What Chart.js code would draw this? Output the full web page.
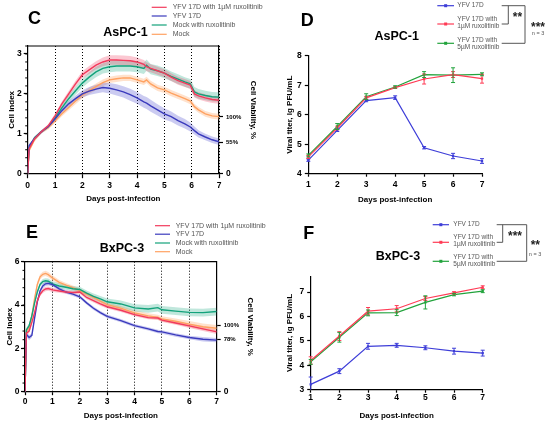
<!DOCTYPE html>
<html>
<head>
<meta charset="utf-8">
<script src="https://cdn.jsdelivr.net/npm/chart.js@4.4.1/dist/chart.umd.min.js"></script>
<style>
  html, body { margin: 0; padding: 0; background: #fff; }
  #wrap { position: relative; width: 550px; height: 426px; overflow: hidden; }
  #wrap canvas { position: absolute; }
</style>
</head>
<body>
<div id="wrap">
  <canvas id="chartC" width="275" height="213" style="left:0;top:0"></canvas>
  <canvas id="chartD" width="275" height="213" style="left:275px;top:0"></canvas>
  <canvas id="chartE" width="275" height="213" style="left:0;top:213px"></canvas>
  <canvas id="chartF" width="275" height="213" style="left:275px;top:213px"></canvas>
</div>
<script>
// ---- cell index (xCELLigence) curves ----
const cellSeriesLabels = ['YFV 17D with 1µM ruxolitinib', 'YFV 17D', 'Mock with ruxolitinib', 'Mock'];
const dayTicks = [0, 1, 2, 3, 4, 5, 6, 7];

// AsPC-1
const aspcDays = [0, 0.05, 0.25, 0.5, 0.75, 1, 1.25, 1.5, 1.75, 2, 2.25, 2.5, 2.75, 3, 3.25, 3.5, 3.75, 4, 4.25, 4.35, 4.5, 4.75, 5, 5.25, 5.5, 5.75, 5.95, 6.1, 6.25, 6.5, 6.75, 7];
const aspcRux = [0, 0.62, 0.88, 1.05, 1.2, 1.45, 1.75, 2.0, 2.25, 2.48, 2.6, 2.72, 2.8, 2.85, 2.85, 2.84, 2.83, 2.8, 2.74, 2.68, 2.64, 2.58, 2.52, 2.42, 2.33, 2.27, 2.22, 2.0, 1.95, 1.9, 1.86, 1.84];
const aspcRuxSd = [0, 0.04, 0.04, 0.04, 0.04, 0.05, 0.06, 0.07, 0.08, 0.09, 0.1, 0.1, 0.11, 0.12, 0.12, 0.12, 0.12, 0.11, 0.11, 0.11, 0.1, 0.1, 0.1, 0.1, 0.1, 0.1, 0.1, 0.09, 0.09, 0.09, 0.09, 0.09];
const aspcYfv = [0, 0.7, 0.88, 1.05, 1.18, 1.37, 1.58, 1.75, 1.88, 2.0, 2.07, 2.12, 2.16, 2.14, 2.1, 2.05, 1.98, 1.9, 1.8, 1.77, 1.7, 1.6, 1.5, 1.43, 1.33, 1.25, 1.17, 1.08, 1.0, 0.92, 0.85, 0.8];
const aspcYfvSd = [0, 0.04, 0.04, 0.04, 0.04, 0.05, 0.06, 0.07, 0.08, 0.09, 0.1, 0.11, 0.12, 0.13, 0.14, 0.14, 0.15, 0.15, 0.15, 0.15, 0.15, 0.14, 0.14, 0.13, 0.12, 0.12, 0.11, 0.1, 0.09, 0.08, 0.08, 0.08];
const aspcMockRux = [0, 0.65, 0.9, 1.05, 1.18, 1.4, 1.65, 1.88, 2.08, 2.27, 2.42, 2.55, 2.64, 2.68, 2.7, 2.7, 2.7, 2.68, 2.64, 2.72, 2.62, 2.58, 2.52, 2.44, 2.37, 2.3, 2.25, 2.05, 2.0, 1.96, 1.93, 1.92];
const aspcMockRuxSd = [0, 0.04, 0.04, 0.04, 0.04, 0.05, 0.07, 0.09, 0.1, 0.11, 0.12, 0.13, 0.13, 0.14, 0.14, 0.14, 0.14, 0.14, 0.14, 0.14, 0.13, 0.13, 0.13, 0.12, 0.12, 0.12, 0.12, 0.12, 0.12, 0.12, 0.12, 0.12];
const aspcMock = [0, 0.58, 0.85, 1.05, 1.15, 1.32, 1.5, 1.66, 1.82, 1.97, 2.08, 2.18, 2.28, 2.35, 2.38, 2.4, 2.4, 2.35, 2.3, 2.35, 2.25, 2.15, 2.1, 2.02, 1.95, 1.88, 1.82, 1.68, 1.6, 1.5, 1.45, 1.43];
const aspcMockSd = [0, 0.05, 0.05, 0.04, 0.04, 0.05, 0.06, 0.07, 0.08, 0.08, 0.08, 0.08, 0.08, 0.08, 0.08, 0.08, 0.08, 0.08, 0.08, 0.08, 0.08, 0.08, 0.08, 0.08, 0.08, 0.08, 0.08, 0.07, 0.07, 0.07, 0.07, 0.07];
const aspcIndexTicks = [0, 1, 2, 3];
const aspcViabilityTicks = [0, 55, 100];

// BxPC-3
const bxpcDays = [0, 0.05, 0.15, 0.25, 0.35, 0.45, 0.55, 0.65, 0.75, 0.85, 1, 1.25, 1.5, 1.75, 2, 2.25, 2.5, 2.75, 3, 3.5, 4, 4.5, 4.85, 5, 5.5, 6, 6.5, 7];
const bxpcRux = [0, 2.7, 2.8, 3.2, 3.65, 4.2, 4.5, 4.66, 4.74, 4.76, 4.7, 4.65, 4.6, 4.58, 4.6, 4.35, 4.2, 4.05, 3.92, 3.76, 3.56, 3.42, 3.4, 3.3, 3.17, 3.04, 2.9, 2.76];
const bxpcRuxSd = [0, 0.1, 0.1, 0.1, 0.1, 0.1, 0.1, 0.1, 0.1, 0.1, 0.1, 0.08, 0.08, 0.08, 0.08, 0.08, 0.08, 0.08, 0.08, 0.08, 0.08, 0.08, 0.08, 0.08, 0.08, 0.1, 0.1, 0.1];
const bxpcYfv = [0, 2.65, 2.5, 2.6, 3.4, 4.15, 4.65, 4.88, 4.98, 5.0, 4.95, 4.75, 4.6, 4.5, 4.38, 4.1, 3.85, 3.65, 3.48, 3.28, 3.05, 2.9, 2.78, 2.76, 2.62, 2.5, 2.42, 2.38];
const bxpcYfvSd = [0, 0.12, 0.12, 0.1, 0.1, 0.1, 0.1, 0.1, 0.1, 0.1, 0.1, 0.08, 0.08, 0.08, 0.08, 0.08, 0.08, 0.08, 0.08, 0.08, 0.08, 0.08, 0.08, 0.08, 0.08, 0.08, 0.1, 0.1];
const bxpcMockRux = [0, 2.85, 3.05, 3.5, 4.1, 4.6, 4.95, 5.08, 5.12, 5.1, 4.98, 4.88, 4.82, 4.75, 4.72, 4.55, 4.4, 4.28, 4.15, 4.05, 3.87, 3.82, 3.88, 3.78, 3.72, 3.66, 3.65, 3.7];
const bxpcMockRuxSd = [0, 0.1, 0.1, 0.1, 0.1, 0.1, 0.1, 0.12, 0.12, 0.12, 0.12, 0.12, 0.12, 0.12, 0.12, 0.12, 0.13, 0.14, 0.15, 0.16, 0.17, 0.18, 0.18, 0.18, 0.18, 0.18, 0.18, 0.18];
const bxpcMock = [0, 2.8, 2.95, 3.5, 4.3, 4.95, 5.3, 5.42, 5.46, 5.4, 5.25, 5.05, 4.92, 4.8, 4.66, 4.5, 4.35, 4.18, 4.02, 3.85, 3.64, 3.5, 3.43, 3.36, 3.25, 3.12, 3.0, 2.93];
const bxpcMockSd = [0, 0.1, 0.1, 0.12, 0.12, 0.12, 0.12, 0.12, 0.12, 0.12, 0.12, 0.1, 0.1, 0.1, 0.1, 0.1, 0.1, 0.1, 0.1, 0.1, 0.12, 0.12, 0.12, 0.12, 0.13, 0.14, 0.15, 0.15];
const bxpcIndexTicks = [0, 2, 4, 6];
const bxpcViabilityTicks = [0, 78, 100];

// ---- viral titers ----
const titerSeriesLabels = ['YFV 17D', 'YFV 17D with\n1µM ruxolitinib', 'YFV 17D with\n5µM ruxolitinib'];
const titerDays = [1, 2, 3, 4, 5, 6, 7];
const aspcTiterYfv = [4.46, 5.47, 6.48, 6.58, 4.88, 4.6, 4.43];
const aspcTiterYfvSd = [0.04, 0.04, 0.04, 0.06, 0.04, 0.09, 0.08];
const aspcTiterRux1 = [4.57, 5.55, 6.57, 6.92, 7.21, 7.36, 7.22];
const aspcTiterRux1Sd = [0.05, 0.06, 0.05, 0.03, 0.17, 0.1, 0.15];
const aspcTiterRux5 = [4.62, 5.6, 6.61, 6.94, 7.36, 7.34, 7.37];
const aspcTiterRux5Sd = [0.05, 0.1, 0.1, 0.04, 0.1, 0.25, 0.05];
const aspcTiterTicks = [4, 5, 6, 7, 8];

const bxpcTiterYfv = [3.22, 3.76, 4.78, 4.82, 4.72, 4.58, 4.5];
const bxpcTiterYfvSd = [0.3, 0.1, 0.12, 0.08, 0.08, 0.12, 0.12];
const bxpcTiterRux1 = [4.2, 5.2, 6.22, 6.32, 6.74, 6.97, 7.2];
const bxpcTiterRux1Sd = [0.15, 0.18, 0.15, 0.13, 0.08, 0.05, 0.06];
const bxpcTiterRux5 = [4.14, 5.15, 6.15, 6.16, 6.58, 6.9, 7.04];
const bxpcTiterRux5Sd = [0.1, 0.2, 0.12, 0.12, 0.27, 0.05, 0.06];
const bxpcTiterTicks = [3, 4, 5, 6, 7];

// ---- look ----
const FAMILY = '"Liberation Sans", Arial, Helvetica, sans-serif';
Chart.defaults.font.family = FAMILY;
Chart.defaults.color = '#000';
Chart.defaults.animation = false;

const cellColors = ['#f23a5c', '#3b3bbd', '#13a27b', '#ffa262'];
const cellBands = ['rgba(242,58,92,0.28)', 'rgba(70,70,205,0.28)', 'rgba(30,170,130,0.28)', 'rgba(255,165,100,0.32)'];
const titerColors = ['#3e3ed8', '#ff3b55', '#22a33c'];

const FONT_TICK = { size: 8.5, weight: 'bold' };
const FONT_AXIS = { size: 8, weight: 'bold' };

const fixWidth = w => s => { s.width = w; };
const fixHeight = h => s => { s.height = h; };
const useTicks = list => s => { s.ticks = list.map(v => ({ value: v })); };
const xy = (days, vals) => days.map((d, i) => ({ x: d, y: vals[i] }));

// letters, titles, legends, frame, minor ticks, significance brackets
const decorPlugin = {
  id: 'decor',
  afterDraw(chart, args, o) {
    const ctx = chart.ctx, a = chart.chartArea;
    ctx.save();
    ctx.fillStyle = '#000';
    ctx.strokeStyle = '#000';
    ctx.textBaseline = 'middle';

    ctx.textAlign = 'left';
    ctx.font = 'bold 18px ' + FAMILY;
    ctx.fillText(o.letter[0], o.letter[1], o.letter[2]);
    ctx.textAlign = 'center';
    ctx.font = 'bold 12.5px ' + FAMILY;
    ctx.fillText(o.title[0], o.title[1], o.title[2]);

    if (o.frameTop) {
      ctx.lineWidth = 1.2;
      ctx.beginPath();
      ctx.moveTo(a.left, a.top);
      ctx.lineTo(a.right, a.top);
      ctx.stroke();
    }

    if (o.minorStep) {
      const s = chart.scales.y;
      ctx.lineWidth = 1;
      for (let v = s.min; v <= s.max + 1e-9; v += o.minorStep) {
        const y = s.getPixelForValue(v);
        ctx.beginPath();
        ctx.moveTo(a.left - 2.5, y);
        ctx.lineTo(a.left, y);
        ctx.stroke();
      }
    }

    const L = o.legend;
    ctx.textAlign = 'left';
    ctx.font = L.size + 'px ' + FAMILY;
    L.rows.forEach(r => {
      const ds = chart.data.datasets[r.ds];
      ctx.strokeStyle = ds.borderColor;
      ctx.lineWidth = 1.2;
      ctx.beginPath();
      ctx.moveTo(L.x0, r.markY);
      ctx.lineTo(L.x1, r.markY);
      ctx.stroke();
      if (L.marker) {
        ctx.fillStyle = ds.borderColor;
        const cx = (L.x0 + L.x1) / 2;
        ctx.fillRect(cx - 1.5, r.markY - 1.5, 3, 3);
      }
      ctx.fillStyle = '#555';
      String(ds.label).split('\n').forEach((t, k) => ctx.fillText(t, L.tx, r.textY + k * L.gap));
    });

    (o.brackets || []).forEach(path => {
      ctx.strokeStyle = '#555';
      ctx.lineWidth = 1;
      ctx.beginPath();
      path.forEach((p, k) => (k ? ctx.lineTo(p[0], p[1]) : ctx.moveTo(p[0], p[1])));
      ctx.stroke();
    });
    (o.marks || []).forEach(m => {
      ctx.fillStyle = m.color || '#222';
      ctx.textAlign = 'center';
      ctx.font = (m.bold ? 'bold ' : '') + m.size + 'px ' + FAMILY;
      ctx.fillText(m.text, m.x, m.y + (m.star ? m.size * 0.22 : 0));
    });
    ctx.restore();
  }
};

// mean ± SD whiskers for the titer plots
const errorBarPlugin = {
  id: 'errorBars',
  afterDatasetsDraw(chart) {
    const ctx = chart.ctx, a = chart.chartArea, ys = chart.scales.y;
    ctx.save();
    ctx.beginPath();
    ctx.rect(a.left - 5, a.top - 5, a.right - a.left + 10, a.bottom - a.top + 5);
    ctx.clip();
    chart.data.datasets.forEach((ds, di) => {
      if (!ds.sd) return;
      const meta = chart.getDatasetMeta(di);
      ctx.strokeStyle = ds.borderColor;
      ctx.lineWidth = 1;
      meta.data.forEach((pt, i) => {
        const v = ds.data[i].y, e = ds.sd[i];
        const y1 = ys.getPixelForValue(v + e), y2 = ys.getPixelForValue(v - e);
        ctx.beginPath();
        ctx.moveTo(pt.x, y1); ctx.lineTo(pt.x, y2);
        ctx.moveTo(pt.x - 2, y1); ctx.lineTo(pt.x + 2, y1);
        ctx.moveTo(pt.x - 2, y2); ctx.lineTo(pt.x + 2, y2);
        ctx.stroke();
      });
    });
    ctx.restore();
  }
};

function cellChart(id, c) {
  const lines = c.series.map((s, i) => ({
    label: cellSeriesLabels[i],
    data: xy(c.days, s[0]),
    borderColor: cellColors[i],
    borderWidth: 1.4,
    pointRadius: 0,
    tension: 0,
    fill: false,
    order: 0
  }));
  const bands = [];
  c.series.forEach((s, i) => {
    bands.push({ data: xy(c.days, s[0].map((v, k) => v + s[1][k])), borderColor: 'rgba(0,0,0,0)', borderWidth: 0, pointRadius: 0, fill: false, order: 2 });
    bands.push({ data: xy(c.days, s[0].map((v, k) => v - s[1][k])), borderColor: 'rgba(0,0,0,0)', borderWidth: 0, pointRadius: 0, fill: '-1', backgroundColor: cellBands[i], order: 2 });
  });
  return new Chart(document.getElementById(id), {
    type: 'line',
    data: { datasets: lines.concat(bands) },
    plugins: [decorPlugin],
    options: {
      responsive: false,
      layout: { padding: { top: c.top, left: 0, right: 0, bottom: 0 } },
      plugins: { legend: { display: false }, tooltip: { enabled: false }, decor: c.decor },
      scales: {
        x: {
          type: 'linear', min: 0, max: 7,
          afterBuildTicks: useTicks(dayTicks),
          afterFit: fixHeight(c.bottomH),
          grid: {
            color: ctx => (ctx.tick && ctx.tick.value === 0 ? 'rgba(0,0,0,0)' : '#000'),
            lineWidth: 1, tickColor: '#000', tickWidth: 1.2, tickLength: c.xTickLen, tickBorderDash: []
          },
          border: { display: true, color: '#000', width: 1.2, dash: [1, 2] },
          ticks: { font: FONT_TICK, padding: c.xTickPad, maxRotation: 0 },
          title: { display: true, text: 'Days post-infection', font: FONT_AXIS, padding: { bottom: c.xTitlePad } }
        },
        y: {
          type: 'linear', position: 'left', min: 0, max: c.yMax,
          afterBuildTicks: useTicks(c.yTicks),
          afterFit: fixWidth(c.leftW),
          grid: { drawOnChartArea: false, tickColor: '#000', tickWidth: 1.2, tickLength: 4 },
          border: { display: true, color: '#000', width: 1.2 },
          ticks: { font: FONT_TICK, padding: c.yTickPad },
          title: { display: true, text: 'Cell Index', font: FONT_AXIS, padding: { top: c.yTitlePad } }
        },
        y2: {
          type: 'linear', position: 'right', min: 0, max: c.viabilityMax,
          afterBuildTicks: useTicks(c.viabilityTicks),
          afterFit: fixWidth(c.rightW),
          grid: { drawOnChartArea: false, tickColor: '#000', tickWidth: 1.2, tickLength: 4 },
          border: { display: true, color: '#000', width: 1.2 },
          ticks: {
            padding: 3,
            callback: v => (v === 0 ? '0' : v + '%'),
            font: ctx => (ctx.tick && ctx.tick.value === 0 ? { size: 8.5, weight: 'bold' } : { size: 6, weight: 'bold' })
          },
          title: { display: true, text: 'Cell Viability, %', font: FONT_AXIS, padding: { top: c.rightTitlePad } }
        }
      }
    }
  });
}

function titerChart(id, c) {
  const datasets = c.series.map((s, i) => ({
    label: titerSeriesLabels[i],
    data: xy(titerDays, s[0]),
    sd: s[1],
    borderColor: titerColors[i],
    backgroundColor: titerColors[i],
    borderWidth: 1.2,
    pointStyle: 'rect',
    pointRadius: 1.6,
    pointBorderWidth: 0,
    tension: 0,
    fill: false,
    clip: 6
  }));
  return new Chart(document.getElementById(id), {
    type: 'line',
    data: { datasets },
    plugins: [decorPlugin, errorBarPlugin],
    options: {
      responsive: false,
      layout: { padding: { top: c.top, left: 0, right: c.padRight, bottom: 0 } },
      plugins: { legend: { display: false }, tooltip: { enabled: false }, decor: c.decor },
      scales: {
        x: {
          type: 'linear', min: 1, max: 7,
          afterBuildTicks: useTicks(titerDays),
          afterFit: fixHeight(c.bottomH),
          grid: { drawOnChartArea: false, tickColor: '#000', tickWidth: 1.2, tickLength: 3 },
          border: { display: true, color: '#000', width: 1.2 },
          ticks: { font: FONT_TICK, padding: c.xTickPad, maxRotation: 0 },
          title: { display: true, text: 'Days post-infection', font: FONT_AXIS, padding: { bottom: c.xTitlePad } }
        },
        y: {
          type: 'linear', min: c.yMin, max: c.yMax,
          afterBuildTicks: useTicks(c.yTicks),
          afterFit: fixWidth(c.leftW),
          grid: { drawOnChartArea: false, tickColor: '#000', tickWidth: 1.2, tickLength: 3.5 },
          border: { display: true, color: '#000', width: 1.2 },
          ticks: { font: FONT_TICK, padding: 3 },
          title: { display: true, text: 'Viral titer, lg PFU/mL', font: FONT_AXIS, padding: { top: c.yTitlePad } }
        }
      }
    }
  });
}

cellChart('chartC', {
  days: aspcDays,
  series: [[aspcRux, aspcRuxSd], [aspcYfv, aspcYfvSd], [aspcMockRux, aspcMockRuxSd], [aspcMock, aspcMockSd]],
  yMax: 3.2, yTicks: aspcIndexTicks, viabilityMax: 225, viabilityTicks: aspcViabilityTicks,
  top: 46, leftW: 27.7, rightW: 56, bottomH: 39.3,
  xTickLen: 4.5, xTickPad: 2.5, yTickPad: 2, xTitlePad: 9.9, yTitlePad: 6.9, rightTitlePad: 16.9,
  decor: {
    letter: ['C', 28, 19], title: ['AsPC-1', 125.5, 32.3], frameTop: true, minorStep: 0.2,
    legend: { x0: 151.7, x1: 166.7, tx: 172.7, size: 7, gap: 0,
      rows: [{ ds: 0, markY: 7.3, textY: 7.3 }, { ds: 1, markY: 16, textY: 16 }, { ds: 2, markY: 25, textY: 25 }, { ds: 3, markY: 34.3, textY: 34.3 }] }
  }
});

cellChart('chartE', {
  days: bxpcDays,
  series: [[bxpcRux, bxpcRuxSd], [bxpcYfv, bxpcYfvSd], [bxpcMockRux, bxpcMockRuxSd], [bxpcMock, bxpcMockSd]],
  yMax: 6, yTicks: bxpcIndexTicks, viabilityMax: 195, viabilityTicks: bxpcViabilityTicks,
  top: 48.7, leftW: 25, rightW: 58.3, bottomH: 34.3,
  xTickLen: 3.5, xTickPad: 1, yTickPad: 1.5, xTitlePad: 5.5, yTitlePad: 5.2, rightTitlePad: 19.5,
  decor: {
    letter: ['E', 26, 20], title: ['BxPC-3', 122, 35.7], frameTop: true, minorStep: 0.4,
    legend: { x0: 155, x1: 170, tx: 175.7, size: 7, gap: 0,
      rows: [{ ds: 0, markY: 12.7, textY: 12.7 }, { ds: 1, markY: 21.2, textY: 21.2 }, { ds: 2, markY: 30, textY: 30 }, { ds: 3, markY: 38.7, textY: 38.7 }] }
  }
});

titerChart('chartD', {
  series: [[aspcTiterYfv, aspcTiterYfvSd], [aspcTiterRux1, aspcTiterRux1Sd], [aspcTiterRux5, aspcTiterRux5Sd]],
  yMin: 4, yMax: 8, yTicks: aspcTiterTicks,
  top: 55.7, leftW: 33.3, padRight: 68, bottomH: 39.3,
  xTickPad: 3, xTitlePad: 8.2, yTitlePad: 10.2,
  decor: {
    letter: ['D', 25.7, 20.7], title: ['AsPC-1', 121.7, 36.7],
    legend: { x0: 162.3, x1: 179, tx: 182.3, size: 6.5, gap: 7.4, marker: true,
      rows: [{ ds: 0, markY: 5.7, textY: 5.7 }, { ds: 1, markY: 24, textY: 19.3 }, { ds: 2, markY: 43.3, textY: 40 }] },
    brackets: [
      [[226.7, 5.7], [250, 5.7], [250, 43.3], [226.7, 43.3]],
      [[233.3, 5.7], [233.3, 24], [226.7, 24]]
    ],
    marks: [
      { text: '**', x: 242.5, y: 15.3, size: 12, bold: true, star: true },
      { text: '***', x: 263, y: 25.5, size: 12, bold: true, star: true },
      { text: 'n = 3', x: 263, y: 33.5, size: 5.5, color: '#555' }
    ]
  }
});

titerChart('chartF', {
  series: [[bxpcTiterYfv, bxpcTiterYfvSd], [bxpcTiterRux1, bxpcTiterRux1Sd], [bxpcTiterRux5, bxpcTiterRux5Sd]],
  yMin: 3, yMax: 7.65, yTicks: bxpcTiterTicks,
  top: 63.3, leftW: 35.7, padRight: 67.3, bottomH: 36.3,
  xTickPad: 0, xTitlePad: 5.5, yTitlePad: 10.2,
  decor: {
    letter: ['F', 28.3, 20.7], title: ['BxPC-3', 123, 43.3],
    legend: { x0: 157.7, x1: 174, tx: 178.3, size: 6.5, gap: 7.4, marker: true,
      rows: [{ ds: 0, markY: 11.7, textY: 11.7 }, { ds: 1, markY: 29.3, textY: 24.3 }, { ds: 2, markY: 48.3, textY: 44.3 }] },
    brackets: [
      [[221.7, 11.7], [251.7, 11.7], [251.7, 48.3], [221.7, 48.3]],
      [[227.7, 11.7], [227.7, 29.3], [221.7, 29.3]]
    ],
    marks: [
      { text: '***', x: 240, y: 20.7, size: 12, bold: true, star: true },
      { text: '**', x: 260.3, y: 30.5, size: 12, bold: true, star: true },
      { text: 'n = 3', x: 260, y: 41.7, size: 5.5, color: '#555' }
    ]
  }
});
</script>
</body>
</html>
